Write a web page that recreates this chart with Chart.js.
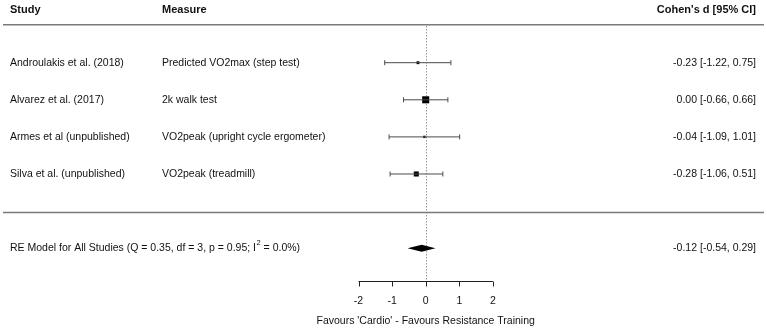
<!DOCTYPE html>
<html lang="en">
<head>
  <meta charset="UTF-8">
  <title>Forest plot</title>
  <script src="https://cdn.jsdelivr.net/npm/chart.js"></script>
  <style>
    body { margin: 0; background: #fff; }
    #wrap { width: 767px; height: 329px; }
  </style>
</head>
<body>
  <div id="wrap"><canvas id="forest"></canvas></div>

  <script>
    // data
    const headers = ['Study', 'Measure', "Cohen's d [95% CI]"];
    const studies = ['Androulakis et al. (2018)', 'Alvarez et al. (2017)', 'Armes et al (unpublished)', 'Silva et al. (unpublished)'];
    const measures = ['Predicted VO2max (step test)', '2k walk test', 'VO2peak (upright cycle ergometer)', 'VO2peak (treadmill)'];
    const estimates = [-0.23, 0.00, -0.04, -0.28];
    const ciLower = [-1.22, -0.66, -1.09, -1.06];
    const ciUpper = [0.75, 0.66, 1.01, 0.51];

    const summaryLabel = 'RE Model for All Studies';
    const summaryQ = 0.35, summaryDf = 3, summaryP = 0.95, summaryI2 = 0.0;
    const summaryEst = -0.12;
    const summaryLower = -0.54;
    const summaryUpper = 0.29;

    const axisTicks = [-2, -1, 0, 1, 2];
    const axisTitle = "Favours 'Cardio' - Favours Resistance Training";

    // rows: studies 1..4 top to bottom, summary on row 6
    const studyRows = studies.map((s, i) => i + 1);
    const summaryRow = 6;

    // square size like metafor: scaled by 1/se, cex 0.5..1.5
    const invSe = ciLower.map((lo, i) => 1 / ((ciUpper[i] - lo) / (2 * 1.96)));
    const wMin = Math.min(...invSe), wMax = Math.max(...invSe);
    const pointRadius = invSe.map(w => {
      const cex = (w - wMin) / (wMax - wMin) + 0.5;
      return (4.7 * cex) / Math.SQRT2;
    });

    const fmt = v => v.toFixed(2);
    const FONT = '"Liberation Sans", Arial, sans-serif';

    // error bars, one line dataset each
    const ciSets = studies.map((s, i) => ({
      type: 'scatter',
      showLine: true,
      data: [{ x: ciLower[i], y: studyRows[i] }, { x: ciUpper[i], y: studyRows[i] }],
      borderColor: '#4a4a4a',
      borderWidth: 1,
      pointStyle: 'line',
      rotation: 90,
      pointRadius: 2.5,
      pointBorderColor: '#4a4a4a',
      pointBorderWidth: 1
    }));

    const forestPlugin = {
      id: 'forest',
      beforeDatasetsDraw(chart) {
        const { ctx, scales: { x, y } } = chart;
        ctx.save();
        // reference line at 0
        ctx.strokeStyle = '#666';
        ctx.lineWidth = 1;
        ctx.setLineDash([1, 2]);
        ctx.beginPath();
        ctx.moveTo(Math.round(x.getPixelForValue(0)) + 0.5, y.getPixelForValue(0.02));
        ctx.lineTo(Math.round(x.getPixelForValue(0)) + 0.5, y.getPixelForValue(6.88));
        ctx.stroke();
        ctx.setLineDash([]);

        // top and bottom rules
        ctx.strokeStyle = '#7a7a7a';
        ctx.lineWidth = 1.5;
        [-0.02, 5.04].forEach(r => {
          const py = y.getPixelForValue(r);
          ctx.beginPath();
          ctx.moveTo(3, py);
          ctx.lineTo(764, py);
          ctx.stroke();
        });
        ctx.restore();
      },
      afterDraw(chart) {
        const { ctx, scales: { x, y } } = chart;
        ctx.save();

        // summary diamond
        const sy = y.getPixelForValue(summaryRow);
        ctx.fillStyle = '#000';
        ctx.beginPath();
        ctx.moveTo(x.getPixelForValue(summaryLower), sy);
        ctx.lineTo(x.getPixelForValue(summaryEst), sy - 3.5);
        ctx.lineTo(x.getPixelForValue(summaryUpper), sy);
        ctx.lineTo(x.getPixelForValue(summaryEst), sy + 3.5);
        ctx.closePath();
        ctx.fill();

        // headers
        ctx.fillStyle = '#111';
        ctx.textBaseline = 'middle';
        ctx.font = 'bold 11px ' + FONT;
        const hy = y.getPixelForValue(-0.42);
        ctx.textAlign = 'left';
        ctx.fillText(headers[0], 10, hy);
        ctx.fillText(headers[1], 162, hy);
        ctx.textAlign = 'right';
        ctx.fillText(headers[2], 756, hy);

        // study rows
        ctx.font = '10.5px ' + FONT;
        studies.forEach((s, i) => {
          const py = y.getPixelForValue(studyRows[i]);
          ctx.textAlign = 'left';
          ctx.fillText(s, 10, py);
          ctx.fillText(measures[i], 162, py);
          ctx.textAlign = 'right';
          ctx.fillText(fmt(estimates[i]) + ' [' + fmt(ciLower[i]) + ', ' + fmt(ciUpper[i]) + ']', 756, py);
        });

        // summary row
        ctx.textAlign = 'left';
        const part1 = summaryLabel + ' (Q = ' + fmt(summaryQ) + ', df = ' + summaryDf + ', p = ' + fmt(summaryP) + '; I';
        ctx.fillText(part1, 10, sy);
        let tx = 10 + ctx.measureText(part1).width;
        ctx.font = '7.5px ' + FONT;
        ctx.fillText('2', tx + 0.5, sy - 5);
        tx += ctx.measureText('2').width + 0.5;
        ctx.font = '10.5px ' + FONT;
        ctx.fillText(' = ' + summaryI2.toFixed(1) + '%)', tx, sy);
        ctx.textAlign = 'right';
        ctx.fillText(fmt(summaryEst) + ' [' + fmt(summaryLower) + ', ' + fmt(summaryUpper) + ']', 756, sy);

        // x axis
        const ay = Math.round(y.getPixelForValue(6.88)) + 0.5;
        const x0 = x.getPixelForValue(axisTicks[0]);
        const x1 = x.getPixelForValue(axisTicks[axisTicks.length - 1]);
        ctx.strokeStyle = '#222';
        ctx.lineWidth = 1;
        ctx.beginPath();
        ctx.moveTo(x0, ay);
        ctx.lineTo(x1, ay);
        axisTicks.forEach(t => {
          const px = Math.round(x.getPixelForValue(t)) + 0.5;
          ctx.moveTo(px, ay);
          ctx.lineTo(px, ay + 5);
        });
        ctx.stroke();
        ctx.textAlign = 'center';
        axisTicks.forEach(t => {
          ctx.fillText(String(t), x.getPixelForValue(t), y.getPixelForValue(7.42));
        });
        ctx.fillText(axisTitle, x.getPixelForValue(0), y.getPixelForValue(7.96));
        ctx.restore();
      }
    };

    const ctx = document.getElementById('forest').getContext('2d');
    new Chart(ctx, {
      type: 'scatter',
      data: {
        datasets: [
          ...ciSets,
          {
            type: 'scatter',
            data: estimates.map((e, i) => ({ x: e, y: studyRows[i] })),
            pointStyle: 'rect',
            pointRadius: pointRadius,
            backgroundColor: '#000',
            borderColor: '#000',
            borderWidth: 0
          }
        ]
      },
      options: {
        responsive: true,
        maintainAspectRatio: false,
        animation: false,
        layout: { padding: 0, autoPadding: false },
        plugins: { legend: { display: false }, tooltip: { enabled: false } },
        scales: {
          // 0 sits at x=425.7, 33.6 px per unit, across the whole canvas
          x: { type: 'linear', display: false, min: -12.67, max: 10.158 },
          // rows 37.1 px apart, row 1 at y=62.7
          y: { type: 'linear', display: false, reverse: true, min: -0.69, max: 8.178 }
        }
      },
      plugins: [forestPlugin]
    });
  </script>
</body>
</html>
